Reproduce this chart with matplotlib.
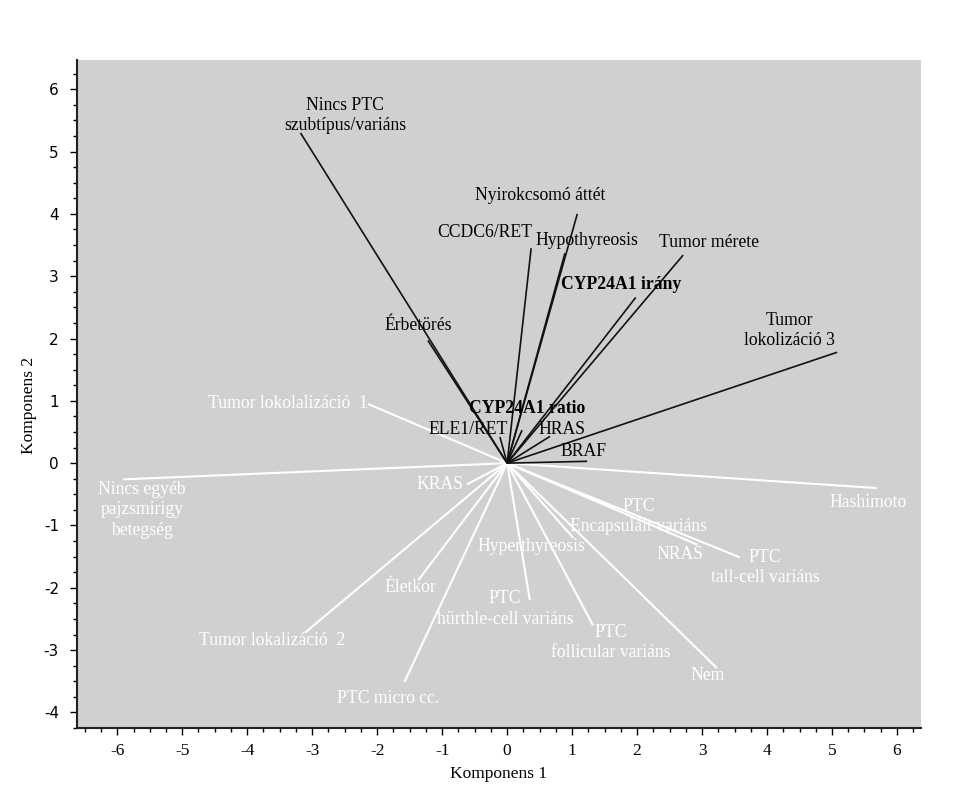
import matplotlib
matplotlib.use("Agg")
import matplotlib.pyplot as plt
from matplotlib.ticker import MultipleLocator

# ---- data: loading vectors (Komponens 1, Komponens 2) ----
black_names = ["Nincs PTC\nszubtípus/variáns", "Érbetörés", "CCDC6/RET", "Nyirokcsomó áttét",
               "Hypothyreosis", "CYP24A1 irány", "Tumor mérete", "Tumor\nlokolizáció 3",
               "CYP24A1 ratio", "ELE1/RET", "HRAS", "BRAF"]
black_x = [-3.18, -1.22, 0.37, 1.08, 0.89, 1.98, 2.71, 5.08, 0.23, -0.11, 0.66, 1.23]
black_y = [5.30, 1.97, 3.45, 4.00, 3.37, 2.66, 3.34, 1.78, 0.53, 0.42, 0.43, 0.03]
black_bold = [False, False, False, False, False, True, False, False, True, False, False, False]

white_names = ["Tumor lokolalizáció  1", "Nincs egyéb\npajzsmirigy\nbetegség", "KRAS", "Életkor",
               "Tumor lokalizáció  2", "PTC micro cc.", "Hyperthyreosis", "PTC\nhürthle-cell variáns",
               "PTC\nfollicular variáns", "Nem", "PTC\nEncapsulált variáns", "NRAS",
               "PTC\ntall-cell variáns", "Hashimoto"]
white_x = [-2.14, -5.91, -0.62, -1.37, -3.11, -1.58, 1.02, 0.35, 1.32, 3.23, 1.66, 2.93, 3.58, 5.69]
white_y = [0.95, -0.26, -0.34, -1.88, -2.72, -3.51, -1.20, -2.20, -2.60, -3.29, -0.72, -1.31, -1.51, -0.40]

# label positions (layout)
black_lab = [(-2.49, 5.58), (-1.37, 2.21), (-0.35, 3.70), (0.51, 4.29), (1.23, 3.57), (1.75, 2.87),
             (3.11, 3.54), (4.35, 2.13), (0.31, 0.88), (-0.60, 0.54), (0.85, 0.54), (1.18, 0.19)]
white_lab = [(-3.38, 0.95), (-5.62, -0.75), (-1.03, -0.35), (-1.49, -1.99), (-3.62, -2.85),
             (-1.83, -3.77), (0.38, -1.33), (-0.03, -2.34), (1.60, -2.88), (3.09, -3.41),
             (2.02, -0.85), (2.66, -1.46), (3.97, -1.68), (5.55, -0.63)]

SERIF = ["Liberation Serif", "DejaVu Serif"]
FS = 12.7

fig = plt.figure(figsize=(9.79, 8.07), dpi=100)
ax = fig.add_axes([77 / 979, 1 - 728 / 807, (921 - 77) / 979, (728 - 60) / 807])
ax.set_facecolor("#d0d0d0")
ax.set_xlim(-6.62, 6.37)
ax.set_ylim(-4.25, 6.47)

for x, y in zip(white_x, white_y):
    ax.plot([0, x], [0, y], color="white", lw=1.5, solid_capstyle="butt", zorder=2)
for x, y in zip(black_x, black_y):
    ax.plot([0, x], [0, y], color="#111111", lw=1.2, solid_capstyle="butt", zorder=3)

for name, (lx, ly), b in zip(black_names, black_lab, black_bold):
    ax.text(lx, ly, name, ha="center", va="center", color="black", fontsize=FS,
            family=SERIF, fontweight="bold" if b else "normal", linespacing=1.25, zorder=4)
for name, (lx, ly) in zip(white_names, white_lab):
    ax.text(lx, ly, name, ha="center", va="center", color="white", fontsize=FS,
            family=SERIF, linespacing=1.25, zorder=4)

ax.spines["top"].set_visible(False)
ax.spines["right"].set_visible(False)
ax.spines["left"].set_linewidth(1.5)
ax.spines["bottom"].set_linewidth(1.5)
ax.spines["left"].set_color("#222222")
ax.spines["bottom"].set_color("#222222")

ax.xaxis.set_major_locator(MultipleLocator(1))
ax.xaxis.set_minor_locator(MultipleLocator(0.25))
ax.yaxis.set_major_locator(MultipleLocator(1))
ax.yaxis.set_minor_locator(MultipleLocator(0.25))
ax.tick_params(which="major", length=5, width=1, direction="out")
ax.tick_params(which="minor", length=3, width=1, direction="out")
ax.tick_params(axis="x", pad=6)
ax.tick_params(axis="y", pad=8)
ax.set_xticks(range(-6, 7))
ax.set_yticks(range(-4, 7))
ax.set_xticklabels([str(v) for v in range(-6, 7)], family=SERIF, fontsize=12.5)
ax.set_yticklabels([str(v) for v in range(-4, 7)], family=["DejaVu Sans"], fontsize=11)

ax.set_xlabel("Komponens 1", family=SERIF, fontsize=12.5, labelpad=5)
ax.set_ylabel("Komponens 2", family=SERIF, fontsize=12.5)
ax.yaxis.set_label_coords(-(77 - 37) / 844, 0.483)

fig.savefig("out.png", dpi=100)
